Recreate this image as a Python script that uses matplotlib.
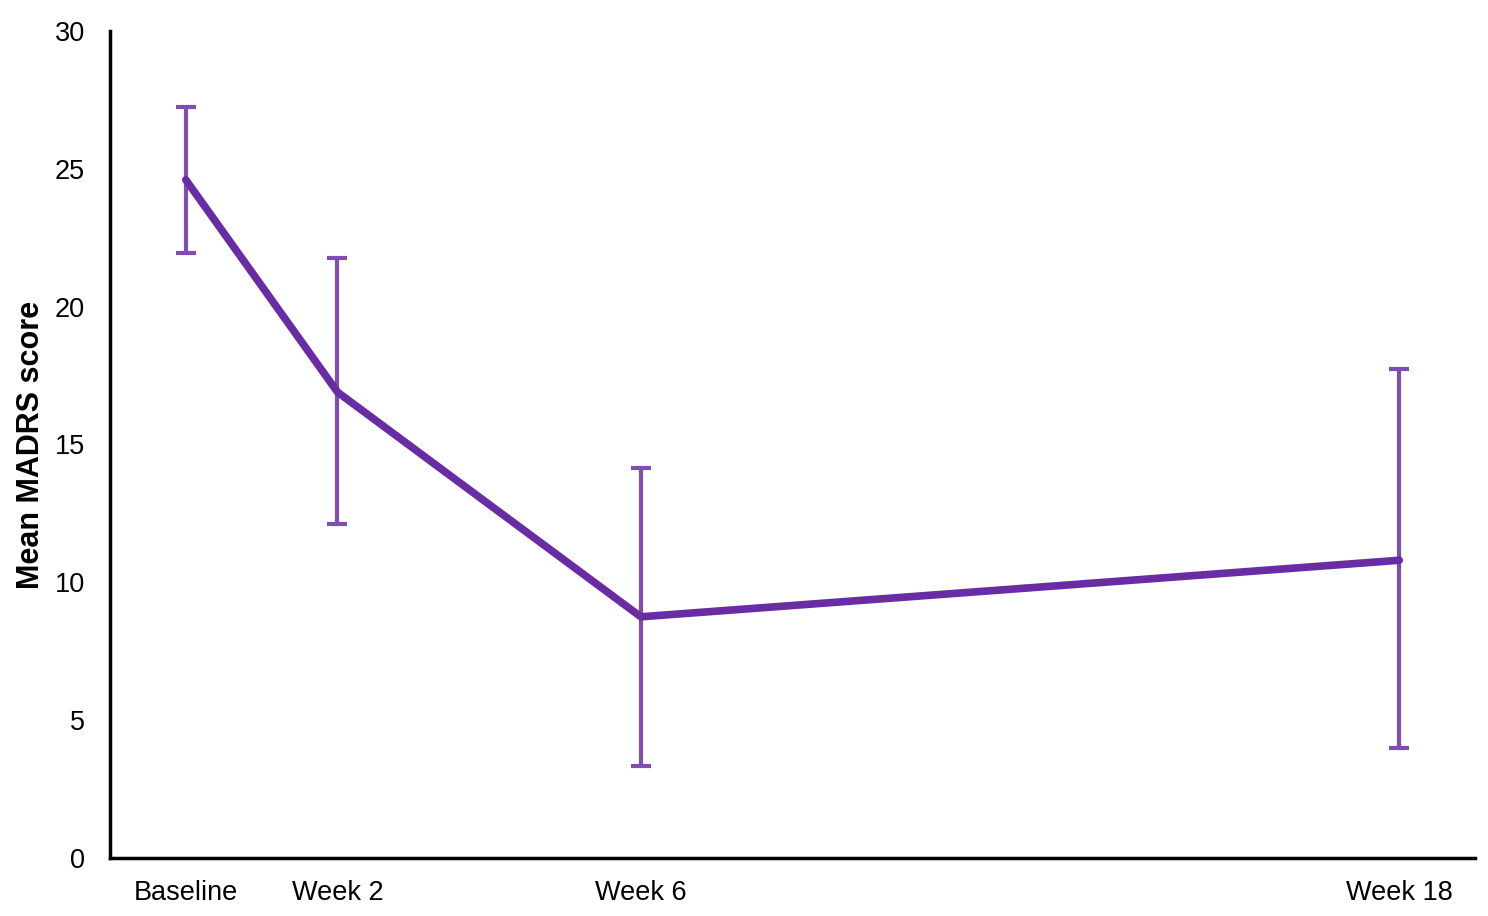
import matplotlib
matplotlib.use("Agg")
import matplotlib.pyplot as plt

plt.rcParams['font.family'] = ['Liberation Sans', 'DejaVu Sans']

timepoints = ["Baseline", "Week 2", "Week 6", "Week 18"]
x_pos = [0, 1, 3, 8]
mean_madrs = [24.6, 16.9, 8.75, 10.8]
err_upper = [2.65, 4.85, 5.4, 6.95]
err_lower = [2.65, 4.8, 5.4, 6.8]

fig = plt.figure(figsize=(14.88, 9.16), dpi=100)
ax = fig.add_axes([0.0739, 0.0633, 0.9174, 0.9029])

ax.errorbar(x_pos, mean_madrs, yerr=[err_lower, err_upper], fmt='none',
            ecolor='#7f4cb1', elinewidth=3, capsize=7, capthick=3, zorder=2)
ax.plot(x_pos, mean_madrs, color='#6a2ca3', linewidth=5.5, zorder=3,
        solid_capstyle='round')

ax.set_xlim(-0.5, 8.5)
ax.set_ylim(0, 30)
ax.set_yticks([0, 5, 10, 15, 20, 25, 30])
ax.set_xticks(x_pos)
ax.set_xticklabels(timepoints)
ax.tick_params(axis='both', length=0, labelsize=19.5)
ax.tick_params(axis='x', pad=16)
ax.tick_params(axis='y', pad=18)
for s in ['top', 'right']:
    ax.spines[s].set_visible(False)
for s in ['left', 'bottom']:
    ax.spines[s].set_linewidth(2.5)
    ax.spines[s].set_color('black')
ax.set_ylabel("Mean MADRS score", fontsize=22, fontweight='bold', labelpad=6)

fig.savefig("out.png", dpi=100)
